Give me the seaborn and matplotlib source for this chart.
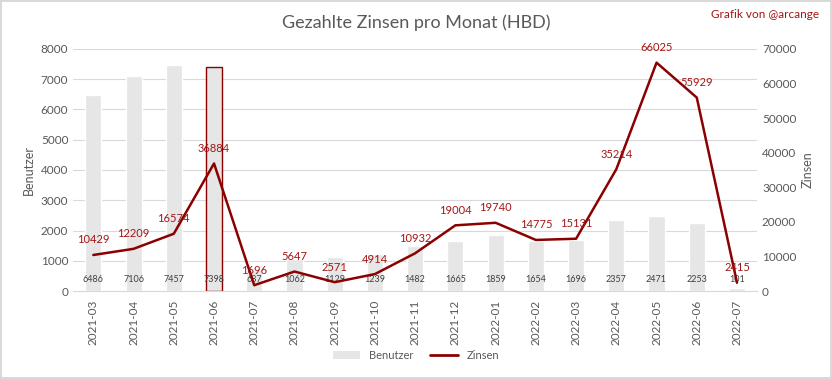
import matplotlib.pyplot as plt
import seaborn as sns
import numpy as np
import pandas as pd
from matplotlib.lines import Line2D
from matplotlib.patches import Patch

# Daten
monate = ["2021-03", "2021-04", "2021-05", "2021-06", "2021-07", "2021-08", "2021-09",
          "2021-10", "2021-11", "2021-12", "2022-01", "2022-02", "2022-03", "2022-04",
          "2022-05", "2022-06", "2022-07"]
benutzer = [6486, 7106, 7457, 7398, 687, 1062, 1129, 1239, 1482, 1665, 1859, 1654,
            1696, 2357, 2471, 2253, 101]
zinsen = [10429, 12209, 16574, 36884, 1696, 5647, 2571, 4914, 10932, 19004, 19740,
          14775, 15131, 35214, 66025, 55929, 2415]

df = pd.DataFrame({"Monat": monate, "Benutzer": benutzer, "Zinsen": zinsen})
df["pos"] = np.arange(len(df))

rot = "#8B0000"
rot_text = "#A31515"
grau = "#595959"

sns.set_style("white")
plt.rcParams["font.family"] = ["Lato", "DejaVu Sans"]

fig = plt.figure(figsize=(8.32, 3.79), dpi=100, edgecolor="#d9d9d9", linewidth=1.5)
ax = fig.add_axes([0.088, 0.232, 0.822, 0.639])

sns.barplot(data=df, x="Monat", y="Benutzer", color="#e6e6e6", width=0.4,
            saturation=1, ax=ax, zorder=2)
# hervorgehobener Balken 2021-06
ax.patches[3].set_edgecolor(rot)
ax.patches[3].set_linewidth(1.0)

for i, v in enumerate(benutzer):
    ax.text(i, 370, str(v), ha="center", va="center", fontsize=6.5, color="#404040", zorder=4)

ax.set_ylim(0, 8000)
ax.set_xlim(-0.5, len(monate) - 0.5)
ax.set_yticks(range(0, 8001, 1000))
ax.grid(axis="y", color="#d9d9d9", linewidth=0.8, zorder=0)
ax.set_axisbelow(True)
ax.set_xlabel("")
ax.set_ylabel("Benutzer", color=grau, fontsize=9)
ax.tick_params(axis="x", rotation=90, labelsize=8.5, labelcolor=grau, length=0, pad=6)
ax.tick_params(axis="y", labelsize=8.5, labelcolor=grau, length=0)
for s in ["top", "right", "left"]:
    ax.spines[s].set_visible(False)
ax.spines["bottom"].set_color("#d9d9d9")

ax2 = ax.twinx()
sns.lineplot(data=df, x="pos", y="Zinsen", color=rot, linewidth=1.8, ax=ax2, zorder=3)
for i, v in enumerate(zinsen):
    ax2.annotate(str(v), (i, v), xytext=(0, 15), textcoords="offset pixels",
                 ha="center", va="center", fontsize=8, color=rot_text)
ax2.set_ylim(0, 70000)
ax2.set_yticks(range(0, 70001, 10000))
ax2.set_ylabel("Zinsen", color=grau, fontsize=9)
ax2.tick_params(axis="y", labelsize=8.5, labelcolor=grau, length=0)
for s in ax2.spines.values():
    s.set_visible(False)
ax2.set_xlim(-0.5, len(monate) - 0.5)

fig.text(0.5, 0.94, "Gezahlte Zinsen pro Monat (HBD)", ha="center", va="center",
         fontsize=13, color=grau)
fig.text(0.985, 0.963, "Grafik von @arcange", ha="right", va="center", fontsize=8.5,
         color=rot_text)

handles = [Patch(facecolor="#e6e6e6", edgecolor="none", label="Benutzer"),
           Line2D([0], [0], color=rot, linewidth=2, label="Zinsen")]
fig.legend(handles=handles, loc="center", bbox_to_anchor=(0.5, 0.063), ncol=2,
           frameon=False, fontsize=8, labelcolor=grau, handlelength=2.5, columnspacing=1.5)

fig.savefig("out.png", dpi=100)
